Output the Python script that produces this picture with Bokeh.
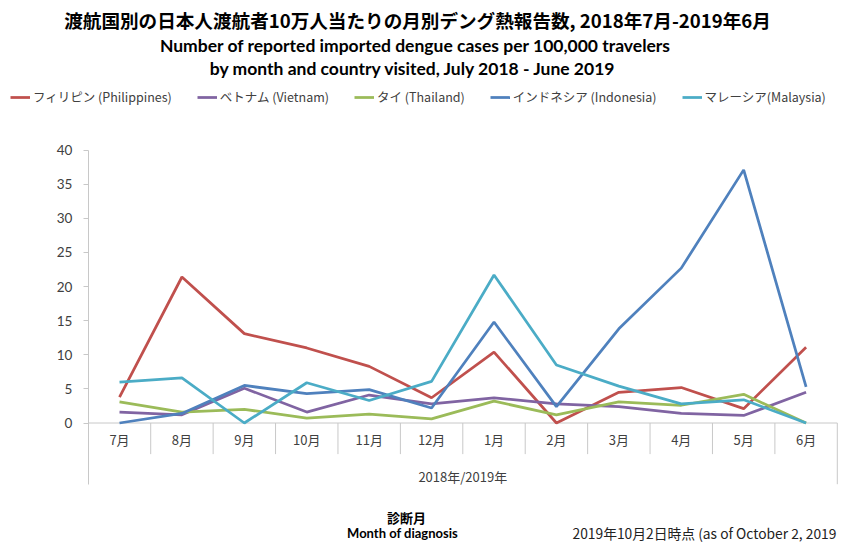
import numpy as np
from bokeh.plotting import figure
from bokeh.models import Range1d, FixedTicker, Label, Legend, LegendItem, ColumnDataSource
from bokeh.core.properties import value
from bokeh.embed import file_html
from bokeh.resources import INLINE

# ---- data -------------------------------------------------------------
months = ["7月", "8月", "9月", "10月", "11月", "12月", "1月", "2月", "3月", "4月", "5月", "6月"]
philippines = [3.8, 21.4, 13.1, 11.0, 8.3, 3.7, 10.4, 0.0, 4.5, 5.2, 2.1, 11.1]
vietnam = [1.6, 1.2, 5.1, 1.6, 4.1, 2.8, 3.7, 2.8, 2.4, 1.4, 1.1, 4.5]
thailand = [3.1, 1.6, 2.0, 0.7, 1.3, 0.6, 3.2, 1.2, 3.1, 2.6, 4.2, 0.0]
indonesia = [0.0, 1.4, 5.5, 4.3, 4.9, 2.2, 14.8, 2.4, 13.8, 22.7, 37.1, 5.3]
malaysia = [6.0, 6.6, 0.0, 5.9, 3.3, 6.1, 21.7, 8.5, 5.4, 2.8, 3.4, 0.0]

series_names = ["フィリピン (Philippines)", "ベトナム (Vietnam)", "タイ (Thailand)",
                "インドネシア (Indonesia)", "マレーシア(Malaysia)"]
series_values = [philippines, vietnam, thailand, indonesia, malaysia]
series_colors = ["#C0504D", "#8064A2", "#9BBB59", "#4F81BD", "#4BACC6"]

y_ticks = [0, 5, 10, 15, 20, 25, 30, 35, 40]
group_label = "2018年/2019年"
title1 = "渡航国別の日本人渡航者10万人当たりの月別デング熱報告数, 2018年7月-2019年6月"
title2 = "Number of reported imported dengue cases per 100,000 travelers"
title3 = "by month and country visited, July 2018 - June 2019"
xlabel_ja = "診断月"
xlabel_en = "Month of diagnosis"
note = "2019年10月2日時点 (as of October 2, 2019"

# ---- layout constants ------------------------------------------------------
W, H = 840, 543
X0 = 87.8              # pixel of x = 0
X12 = 836.8            # pixel of x = 12 (right end of the table)
Y40 = 149.6            # pixel (from top) of y = 40
Y0 = 422.5             # pixel (from top) of y = 0
Y_BOT = -8.97          # bottom of the category table (data units)
AX = "#C8C8C8"
TXT = "#404040"
JP = "Noto Sans CJK JP"

n = len(months)
xs = np.arange(n) + 0.5
PX_X = (X12 - X0) / n
PX_Y = (Y0 - Y40) / 40.0

p = figure(width=W, height=H, output_backend="svg", toolbar_location=None,
           x_range=Range1d(-X0 / PX_X, (W - X0) / PX_X),
           y_range=Range1d(-(H - Y0) / PX_Y, Y0 / PX_Y),
           x_axis_location=None, title=None, min_border=0)
p.xgrid.visible = False
p.ygrid.visible = False
p.outline_line_color = None
p.background_fill_color = "white"

# y axis, drawn at x = 0 and limited to the table height
yax = p.yaxis[0]
yax.fixed_location = 0
yax.bounds = (Y_BOT, 40)
yax.ticker = FixedTicker(ticks=y_ticks)
yax.axis_line_color = AX
yax.major_tick_line_color = AX
yax.major_tick_out = 5
yax.major_tick_in = 0
yax.minor_tick_line_color = None
yax.major_label_text_font = "Lato"
yax.major_label_text_font_size = "13.5px"
yax.major_label_text_color = TXT
yax.major_label_standoff = 11

# category table under the plot
p.segment(x0=[0], y0=[0], x1=[n], y1=[0], line_color=AX, line_width=1)
bounds = np.arange(1, n)
p.segment(x0=bounds, y0=0, x1=bounds, y1=-4.56, line_color=AX, line_width=1)
p.segment(x0=[n], y0=[0], x1=[n], y1=[Y_BOT], line_color=AX, line_width=1)

lab_src = ColumnDataSource(dict(x=xs, y=[-2.42] * n, t=months))
p.text(x="x", y="y", text="t", source=lab_src, text_align="center", text_baseline="middle",
       text_font=value(JP), text_font_size="13px", text_color=TXT)
p.text(x=[n / 2], y=[-7.83], text=[group_label], text_align="center", text_baseline="middle",
       text_font=value(JP), text_font_size="13px", text_color=TXT)

# lines
items = []
for name, vals, col in zip(series_names, series_values, series_colors):
    r = p.line(xs, vals, line_color=col, line_width=2.75)
    items.append(LegendItem(label=name, renderers=[r]))

legend = Legend(items=items, orientation="horizontal", location=(10, H - 106),
                border_line_color=None, background_fill_alpha=0, padding=0, margin=0,
                spacing=25, glyph_width=20, glyph_height=16, label_height=16,
                label_standoff=3, label_text_font=JP, label_text_font_size="12.5px",
                label_text_color=TXT)
p.add_layout(legend)

# titles and notes (screen units, y measured up from the bottom)
def lab(x, y_top, text, size, bold=True, align="center", font=JP, color="black"):
    p.add_layout(Label(x=x, y=H - y_top, x_units="screen", y_units="screen", text=text,
                       text_align=align, text_baseline="middle", text_font=font,
                       text_font_size=size, text_font_style="bold" if bold else "normal",
                       text_color=color))

lab(417, 19, title1, "18.6px")
lab(415, 45, title2, "17.5px", font="Lato")
lab(413, 68, title3, "17.5px", font="Lato")
lab(406, 517, xlabel_ja, "13px")
lab(402, 532, xlabel_en, "13px", font="Lato")
lab(572, 532, note, "13.8px", bold=False, align="left", color="#222222")

open("out.html", "w").write(file_html(p, INLINE))
